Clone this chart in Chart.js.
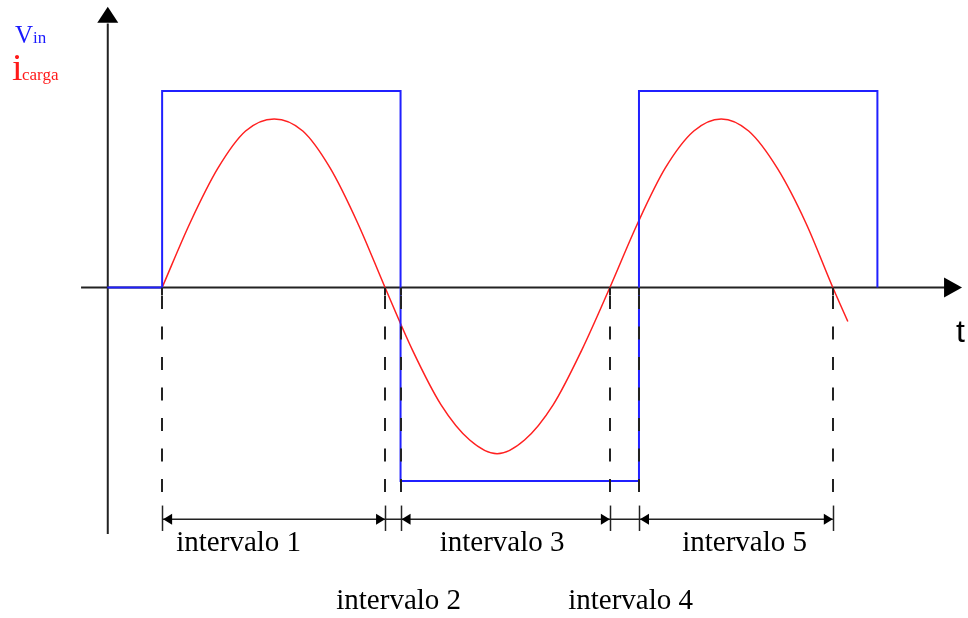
<!DOCTYPE html>
<html>
<head>
<meta charset="utf-8">
<script src="https://cdn.jsdelivr.net/npm/chart.js@4/dist/chart.umd.min.js"></script>
<style>
  html, body { margin: 0; padding: 0; background: #fff; }
  #wrap { width: 968px; height: 618px; position: relative; }
</style>
</head>
<body>
<div id="wrap"><canvas id="waveChart"></canvas></div>
<script>
// square wave v_in (time units, volts)
const squareT = [-2.3, 0, 0, 10, 10, 20, 20, 30, 30];
const squareV = [0, 0, 10.05, 10.05, -9.9, -9.9, 10.05, 10.05, 0];

// load current i_carga
const currentT = [0, 1.17, 2.34, 3.5, 4.7, 5.9, 7.05, 8.2, 9.35, 10.5, 11.7, 12.9, 14.05, 15.2, 16.4, 17.6, 18.78, 19.95, 21.1, 22.3, 23.45, 24.6, 25.8, 27.0, 28.13, 28.76];
const currentI = [0, 3.3, 6.1, 8.0, 8.62, 8.0, 6.1, 3.3, 0, -3.2, -6.0, -7.8, -8.5, -7.8, -6.0, -3.2, 0, 3.3, 6.1, 8.0, 8.62, 8.0, 6.1, 3.3, 0, -1.74];

// interval boundaries on the time axis
const boundaries = [0, 9.35, 10, 18.78, 20, 28.13];
const intervalLabels = ['intervalo 1', 'intervalo 2', 'intervalo 3', 'intervalo 4', 'intervalo 5'];
const labelT = [3.21, 9.92, 14.26, 19.65, 24.43];
const labelRow = [0, 1, 0, 1, 0];

const xMin = -6.8, xMax = 33.8, yMin = -16.9, yMax = 14.7;

const toPoints = (xs, ys) => xs.map((x, i) => ({ x: x, y: ys[i] }));

function arrowHead(ctx, tipX, tipY, dir) {
  // dir: 'up' | 'right' | 'left'
  ctx.beginPath();
  if (dir === 'up') {
    ctx.moveTo(tipX, tipY);
    ctx.lineTo(tipX - 10.5, tipY + 16);
    ctx.lineTo(tipX + 10.5, tipY + 16);
  } else if (dir === 'right') {
    ctx.moveTo(tipX, tipY);
    ctx.lineTo(tipX - 18, tipY - 10);
    ctx.lineTo(tipX - 18, tipY + 10);
  }
  ctx.closePath();
  ctx.fill();
}

function smallArrow(ctx, tipX, y, dir) {
  ctx.beginPath();
  ctx.moveTo(tipX, y);
  ctx.lineTo(tipX - dir * 9, y - 5.5);
  ctx.lineTo(tipX - dir * 9, y + 5.5);
  ctx.closePath();
  ctx.fill();
}

const axesPlugin = {
  id: 'axesPlugin',
  beforeDatasetsDraw(chart) {
    const ctx = chart.ctx;
    const xs = chart.scales.x, ys = chart.scales.y;
    const x0 = xs.getPixelForValue(-2.28);
    const y0 = ys.getPixelForValue(0);
    ctx.save();
    ctx.strokeStyle = '#222';
    ctx.fillStyle = '#000';
    ctx.lineWidth = 2;
    ctx.beginPath();
    ctx.moveTo(x0, ys.getPixelForValue(-12.6));
    ctx.lineTo(x0, ys.getPixelForValue(13.5));
    ctx.moveTo(xs.getPixelForValue(-3.4), y0);
    ctx.lineTo(xs.getPixelForValue(32.9), y0);
    ctx.stroke();
    arrowHead(ctx, x0, ys.getPixelForValue(14.35), 'up');
    arrowHead(ctx, xs.getPixelForValue(33.55), y0, 'right');
    ctx.restore();
  },
  afterDatasetsDraw(chart) {
    const ctx = chart.ctx;
    const xs = chart.scales.x, ys = chart.scales.y;
    const y0 = ys.getPixelForValue(0);
    const guideEnd = ys.getPixelForValue(-11.2);
    const tickTop = ys.getPixelForValue(-11.15);
    const tickBot = ys.getPixelForValue(-12.45);
    const arrowY = ys.getPixelForValue(-11.85);
    ctx.save();
    ctx.strokeStyle = '#222';
    ctx.fillStyle = '#000';
    ctx.lineWidth = 2;
    // dashed guides
    boundaries.forEach(b => {
      const px = Math.round(xs.getPixelForValue(b));
      ctx.setLineDash([]);
      ctx.beginPath();
      ctx.moveTo(px, y0);
      ctx.lineTo(px, y0 + 8);
      ctx.stroke();
      ctx.setLineDash([13, 17.5]);
      ctx.lineDashOffset = -8;
      ctx.beginPath();
      ctx.moveTo(px, y0 + 0.5);
      ctx.lineTo(px, guideEnd - 14);
      ctx.stroke();
    });
    ctx.setLineDash([]);
    // interval dimension line
    ctx.lineWidth = 1.5;
    const left = xs.getPixelForValue(boundaries[0]);
    const right = xs.getPixelForValue(boundaries[boundaries.length - 1]);
    ctx.beginPath();
    ctx.moveTo(left, arrowY);
    ctx.lineTo(right, arrowY);
    ctx.stroke();
    boundaries.forEach(b => {
      const px = Math.round(xs.getPixelForValue(b)) + 0.5;
      ctx.beginPath();
      ctx.moveTo(px, tickTop);
      ctx.lineTo(px, tickBot);
      ctx.stroke();
    });
    for (let k = 0; k < boundaries.length - 1; k++) {
      const a = xs.getPixelForValue(boundaries[k]);
      const b = xs.getPixelForValue(boundaries[k + 1]);
      if (k === 1 || k === 3) continue;
      smallArrow(ctx, a + 1, arrowY, -1);
      smallArrow(ctx, b, arrowY, 1);
    }
    // interval labels
    ctx.font = '29px "Liberation Serif", "Times New Roman", serif';
    ctx.textAlign = 'center';
    ctx.textBaseline = 'alphabetic';
    intervalLabels.forEach((txt, i) => {
      const px = xs.getPixelForValue(labelT[i]);
      const py = labelRow[i] === 0 ? 551 : 609;
      ctx.fillText(txt, px, py);
    });
    // axis name t
    ctx.textAlign = 'left';
    ctx.font = '32px "Liberation Sans", Arial, sans-serif';
    ctx.fillText('t', 956, 342);
    // legend labels
    ctx.fillStyle = '#1a1aff';
    ctx.font = '25px "Liberation Serif", serif';
    ctx.fillText('V', 15, 43);
    ctx.font = '17px "Liberation Serif", serif';
    ctx.fillText('in', 33, 43);
    ctx.fillStyle = '#ff1a1a';
    ctx.font = '38px "Liberation Serif", serif';
    ctx.fillText('i', 12, 80);
    ctx.font = '17px "Liberation Serif", serif';
    ctx.fillText('carga', 22, 80);
    ctx.restore();
  }
};

const waveConfig = {
  type: 'scatter',
  data: {
    datasets: [{
      label: 'Vin',
      data: toPoints(squareT, squareV),
      showLine: true,
      borderColor: '#2020ff',
      borderWidth: 2,
      pointRadius: 0,
      tension: 0
    },
    {
      label: 'icarga',
      data: toPoints(currentT, currentI),
      showLine: true,
      borderColor: '#ff2020',
      borderWidth: 1.5,
      pointRadius: 0,
      cubicInterpolationMode: 'monotone'
    }]
  },
  options: {
    responsive: true,
    maintainAspectRatio: false,
    animation: false,
    layout: { padding: 0 },
    plugins: {
      legend: { display: false },
      tooltip: { enabled: false }
    },
    scales: {
      x: { type: 'linear', min: xMin, max: xMax, display: false },
      y: { type: 'linear', min: yMin, max: yMax, display: false }
    }
  },
  plugins: [axesPlugin]
};

const waveChart = new Chart(document.getElementById('waveChart'), waveConfig);
</script>
</body>
</html>
